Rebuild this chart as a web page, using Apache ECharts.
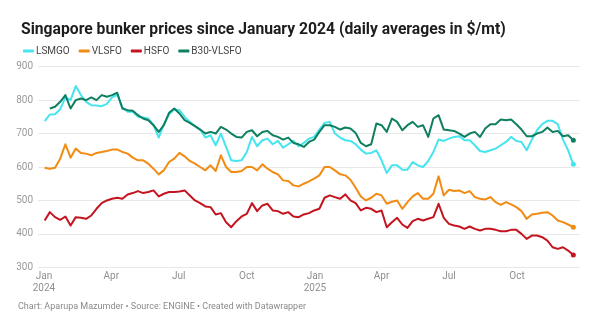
<!DOCTYPE html>
<html>
<head>
<meta charset="utf-8">
<script src="https://cdn.jsdelivr.net/npm/echarts@6/dist/echarts.min.js"></script>
<style>
  html, body { margin: 0; padding: 0; background: #fff; }
  #chart { width: 600px; height: 333px; }
</style>
</head>
<body>
<div id="chart"></div>
<script>
// Weekly readings of Singapore bunker prices ($/mt), first point 2 Jan 2024
const firstDay = '2024-01-02';
const stepDays = 7;

const lsmgo = [
  737, 757, 758, 773, 808, 800, 842, 815, 795, 785, 784, 782, 789, 808, 816, 778, 765,
  765, 750, 748, 745, 725, 688, 728, 758, 772, 770, 750, 735, 722, 712, 688, 695, 665,
  700, 660, 620, 618, 620, 645, 690, 662, 680, 685, 668, 678, 658, 668, 678, 662, 672,
  685, 690, 712, 732, 735, 700, 688, 680, 678, 668, 652, 640, 642, 650, 620, 582, 605, 605,
  592, 592, 615, 605, 600, 618, 645, 682, 678, 685, 690, 692, 680, 680, 665, 648, 645, 650,
  655, 665, 675, 690, 678, 675, 650, 682, 710, 728, 738, 738, 728, 682, 650, 608
];
const vlsfo = [
  598, 595, 598, 625, 668, 628, 655, 642, 640, 635, 642, 645, 648, 652, 652, 645, 640,
  628, 620, 620, 610, 595, 578, 590, 615, 625, 642, 632, 618, 610, 600, 590, 605, 588,
  635, 600, 585, 585, 588, 600, 600, 590, 608, 595, 585, 578, 560, 558, 545, 542, 550,
  557, 565, 575, 600, 600, 590, 578, 575, 562, 538, 512, 500, 508, 520, 515, 490, 496, 500,
  475, 495, 512, 522, 505, 505, 520, 572, 515, 532, 528, 530, 522, 528, 510, 505, 503, 510,
  495, 487, 495, 488, 480, 468, 445, 458, 460, 463, 465, 455, 440, 435, 428, 420
];
const hsfo = [
  440, 465, 450, 442, 452, 425, 450, 448, 445, 455, 475, 492, 500, 505, 508, 505, 518,
  522, 528, 522, 525, 530, 512, 520, 525, 525, 527, 530, 515, 500, 492, 482, 480, 458,
  462, 435, 420, 438, 452, 460, 492, 468, 485, 490, 470, 468, 460, 465, 452, 450, 458,
  462, 470, 475, 508, 515, 510, 505, 518, 500, 492, 470, 478, 475, 465, 470, 420, 435, 448,
  428, 418, 438, 445, 440, 445, 450, 490, 448, 430, 425, 422, 415, 422, 415, 410, 415, 415,
  412, 408, 408, 412, 412, 400, 385, 395, 395, 390, 380, 360, 355, 360, 350, 337
];
const b30Vlsfo = [
  null, 775, 780, 795, 815, 775, 800, 805, 800, 808, 800, 815, 810, 815, 822, 775, 770,
  768, 755, 745, 740, 725, 705, 725, 762, 775, 760, 740, 732, 722, 712, 700, 705, 700,
  720, 712, 700, 690, 688, 705, 710, 692, 705, 708, 695, 690, 682, 688, 672, 668, 660,
  675, 682, 705, 725, 725, 720, 712, 718, 715, 702, 672, 662, 668, 730, 725, 705, 745, 735,
  710, 725, 735, 720, 725, 690, 745, 755, 712, 710, 708, 700, 690, 700, 705, 690, 715, 728,
  728, 742, 740, 742, 728, 712, 692, 692, 700, 705, 718, 705, 708, 692, 695, 680
];

const seriesNames = ['LSMGO', 'VLSFO', 'HSFO', 'B30-VLSFO'];
const seriesColors = ['#45e4ee', '#f28b12', '#c3141f', '#0e7f60'];
const yTicks = [300, 400, 500, 600, 700, 800, 900];
const xTickDates = [
  '2024-01-01', '2024-04-01', '2024-07-01', '2024-10-01',
  '2025-01-01', '2025-04-01', '2025-07-01', '2025-10-01'
];
const monthNames = ['Jan', 'Feb', 'Mar', 'Apr', 'May', 'Jun', 'Jul', 'Aug', 'Sep', 'Oct', 'Nov', 'Dec'];

const dayMs = 86400000;
const toTime = d => Date.parse(d + 'T00:00:00Z');
const t0 = toTime(firstDay);
const dates = lsmgo.map((_, i) => t0 + i * stepDays * dayMs);
const tickTimes = xTickDates.map(toTime);

// Line points; the latest reading of each series gets a small dot
function toPoints(values, color) {
  const pts = values.map((v, i) => [dates[i], v]);
  const last = pts.length - 1;
  pts[last] = { value: pts[last], symbol: 'circle', symbolSize: 5, itemStyle: { color: color } };
  return pts;
}

const allValues = [lsmgo, vlsfo, hsfo, b30Vlsfo];

const chart = echarts.init(document.getElementById('chart'), null, { renderer: 'canvas' });
chart.setOption({
  animation: false,
  backgroundColor: '#ffffff',
  textStyle: { fontFamily: 'Roboto' },
  title: {
    text: 'Singapore bunker prices since January 2024 (daily averages in $/mt)',
    left: 16,
    top: 17,
    textStyle: { fontFamily: 'Roboto', fontWeight: 'bold', fontSize: 15.7, color: '#1d1d1d' }
  },
  legend: {
    left: 18,
    top: 41,
    icon: 'roundRect',
    itemWidth: 11,
    itemHeight: 3,
    itemGap: 9,
    textStyle: { fontFamily: 'Roboto', fontSize: 10, color: '#444', padding: [0, 0, 0, -3] },
    data: seriesNames
  },
  graphic: [{
    type: 'text',
    left: 18,
    top: 302,
    style: {
      text: 'Chart: Aparupa Mazumder \u2022 Source: ENGINE \u2022 Created with Datawrapper',
      fontFamily: 'Roboto',
      fontSize: 9,
      fill: '#8a8a8a'
    }
  }],
  grid: { left: 38, right: 20, top: 66.7, bottom: 65.7, containLabel: false },
  xAxis: {
    type: 'value',
    min: toTime('2023-12-24'),
    max: toTime('2025-12-25'),
    axisLine: { show: false },
    axisTick: { show: false },
    splitLine: { show: false },
    axisLabel: {
      customValues: tickTimes,
      margin: 3,
      fontSize: 10,
      lineHeight: 12,
      color: '#8f8f8f',
      fontFamily: 'Roboto',
      formatter: function (val) {
        const d = new Date(val);
        const m = monthNames[d.getUTCMonth()];
        return d.getUTCMonth() === 0 ? m + '\n' + d.getUTCFullYear() : m;
      }
    }
  },
  yAxis: {
    type: 'value',
    min: 300,
    max: 900,
    interval: 100,
    axisLine: { show: false },
    axisTick: { show: false },
    axisLabel: { margin: 5, fontSize: 10, color: '#9a9a9a', fontFamily: 'Roboto' },
    splitLine: { lineStyle: { color: '#e8e8e8', width: 1 } }
  },
  series: seriesNames.map((name, k) => ({
    name: name,
    type: 'line',
    data: toPoints(allValues[k], seriesColors[k]),
    symbol: 'none',
    showSymbol: true,
    color: seriesColors[k],
    lineStyle: { width: 2, color: seriesColors[k], join: 'round' },
    connectNulls: false,
    z: 2 + k
  }))
});
</script>
</body>
</html>
